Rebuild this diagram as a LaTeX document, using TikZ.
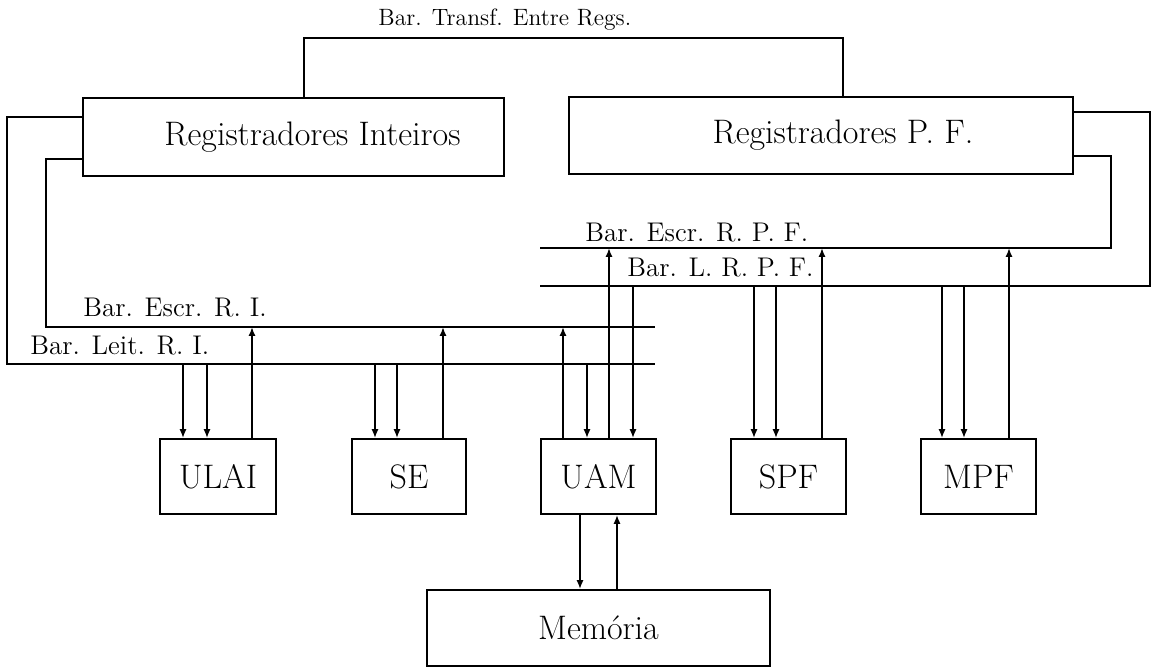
\documentclass[tikz,border=0pt]{standalone}
\usetikzlibrary{arrows.meta}
\begin{document}
\begin{tikzpicture}[x=0.5pt,y=-0.5pt,
  box/.style={draw, line width=0.9pt, inner sep=0pt, font=\fontsize{17}{20}\selectfont},
  smallbox/.style={box, minimum width=57.5pt, minimum height=37.5pt},
  bus/.style={line width=0.9pt},
  arr/.style={line width=0.9pt, -{Latex[length=4.5pt,width=3.6pt]}},
  buslabel/.style={anchor=base west, inner sep=0pt, font=\fontsize{13.5}{16}\selectfont},
  toplabel/.style={anchor=base west, inner sep=0pt, font=\fontsize{11.8}{14}\selectfont}]
\useasboundingbox (0,0) rectangle (1153,668);

% boxes
\node[box, minimum width=210.5pt, minimum height=39pt] (RI) at (293.5,137) {\hspace*{19pt}Registradores Inteiros};
\node[box, minimum width=252pt, minimum height=38.5pt] (RPF) at (821,135.5) {\hspace*{22pt}Registradores P. F.};
\node[smallbox, minimum width=58pt] (ULAI) at (218,476.5) {ULAI};
\node[smallbox, minimum width=57pt] (SE) at (409,476.5) {SE};
\node[smallbox] (UAM) at (598.5,476.5) {UAM};
\node[smallbox] (SPF) at (788.5,476.5) {SPF};
\node[smallbox] (MPF) at (978.5,476.5) {MPF};
\node[box, minimum width=171.5pt, minimum height=38pt] (MEM) at (598.5,628) {Mem\'oria};

% bus coordinates
\coordinate (tbL) at (304,38);
\coordinate (tbR) at (843,38);
\coordinate (eriL) at (46,327);
\coordinate (eriR) at (655,327);
\coordinate (lriL) at (7,364);
\coordinate (lriR) at (655,364);
\coordinate (erpfL) at (540,248);
\coordinate (erpfR) at (1111,248);
\coordinate (lrpfL) at (540,286);
\coordinate (lrpfR) at (1150,286);

% buses
\draw[bus] (RI.north -| tbL) -- (tbL) -- (tbR) -- (RPF.north -| tbR);
\draw[bus] (RI.west |- 0,117) -| (lriL) -- (lriR);
\draw[bus] (RI.west |- 0,159) -| (eriL) -- (eriR);
\draw[bus] (RPF.east |- 0,156) -| (erpfR) -- (erpfL);
\draw[bus] (RPF.east |- 0,112) -| (lrpfR) -- (lrpfL);

% bus labels
\node[toplabel] (ltb) at (378,26) {Bar. Transf. Entre Regs.};
\node[buslabel] (leri) at (83,317) {Bar. Escr. R. I.};
\node[buslabel] (llri) at (30,355) {Bar. Leit. R. I.};
\node[buslabel] (lerpf) at (585,242) {Bar. Escr. R. P. F.};
\node[buslabel] (llrpf) at (627,277) {Bar. L. R. P. F.};

% ULAI
\draw[arr] (lriL -| 183,0) -- (ULAI.north -| 183,0);
\draw[arr] (lriL -| 207,0) -- (ULAI.north -| 207,0);
\draw[arr] (ULAI.north -| 252,0) -- (eriL -| 252,0);
% SE
\draw[arr] (lriL -| 375,0) -- (SE.north -| 375,0);
\draw[arr] (lriL -| 397,0) -- (SE.north -| 397,0);
\draw[arr] (SE.north -| 443,0) -- (eriL -| 443,0);
% UAM
\draw[arr] (UAM.north -| 563,0) -- (eriL -| 563,0);
\draw[arr] (lriL -| 587,0) -- (UAM.north -| 587,0);
\draw[arr] (UAM.north -| 609,0) -- (erpfL -| 609,0);
\draw[arr] (lrpfL -| 633,0) -- (UAM.north -| 633,0);
% SPF
\draw[arr] (lrpfL -| 754,0) -- (SPF.north -| 754,0);
\draw[arr] (lrpfL -| 776,0) -- (SPF.north -| 776,0);
\draw[arr] (SPF.north -| 822,0) -- (erpfL -| 822,0);
% MPF
\draw[arr] (lrpfL -| 942,0) -- (MPF.north -| 942,0);
\draw[arr] (lrpfL -| 964,0) -- (MPF.north -| 964,0);
\draw[arr] (MPF.north -| 1009,0) -- (erpfL -| 1009,0);
% Memoria
\draw[arr] (UAM.south -| 580,0) -- (MEM.north -| 580,0);
\draw[arr] (MEM.north -| 617,0) -- (UAM.south -| 617,0);
\end{tikzpicture}
\end{document}
